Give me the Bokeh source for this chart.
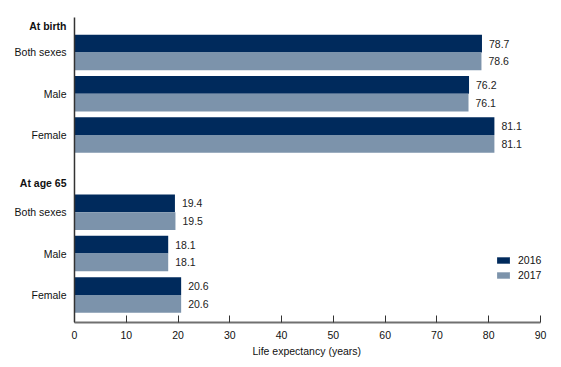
from bokeh.plotting import figure
from bokeh.models import Range1d, FixedTicker, ColumnDataSource, Legend, LegendItem, Title
from bokeh.core.properties import value
from bokeh.embed import file_html
from bokeh.resources import INLINE

sections = ["At birth", "At age 65"]
groups = ["Both sexes", "Male", "Female"]
v2016_birth = [78.7, 76.2, 81.1]
v2017_birth = [78.6, 76.1, 81.1]
v2016_65 = [19.4, 18.1, 20.6]
v2017_65 = [19.5, 18.1, 20.6]
xticks = [0, 10, 20, 30, 40, 50, 60, 70, 80, 90]

C16 = "#002A5C"
C17 = "#7C93AB"
FONT = "Liberation Sans"
FS = "10.5px"
TXT = "#111111"

# layout (y units, reversed axis; one unit = one group step)
sec_offset = [0.0, 3.87]
header_offset = [-0.63, -0.70]
bh = 0.43
y_top, y_bottom = -1.259, 6.538
axis_top = -0.847
x_left, x_right = -14.29, 92.9

ys16, ys17, vals16, vals17, centers, labels = [], [], [], [], [], []
data16 = [v2016_birth, v2016_65]
data17 = [v2017_birth, v2017_65]
for s in range(2):
    for i, g in enumerate(groups):
        c = sec_offset[s] + i
        centers.append(c)
        labels.append(g)
        ys16.append(c - bh / 2)
        ys17.append(c + bh / 2)
        vals16.append(data16[s][i])
        vals17.append(data17[s][i])

p = figure(frame_width=555, frame_height=322, output_backend="svg", toolbar_location=None,
           x_range=Range1d(x_left, x_right), y_range=Range1d(y_bottom, y_top),
           y_axis_location=None, min_border_left=0, min_border_top=0,
           min_border_right=0, min_border_bottom=42)
p.outline_line_color = None
p.xgrid.visible = False
p.ygrid.visible = False

src16 = ColumnDataSource(dict(y=ys16, v=vals16, t=[f"{v:.1f}" for v in vals16]))
src17 = ColumnDataSource(dict(y=ys17, v=vals17, t=[f"{v:.1f}" for v in vals17]))
r16 = p.hbar(y="y", right="v", left=0, height=bh, source=src16, fill_color=C16, line_color=None)
r17 = p.hbar(y="y", right="v", left=0, height=bh, source=src17, fill_color=C17, line_color=None)
for src in (src16, src17):
    p.text(x="v", y="y", text="t", source=src, x_offset=7, text_align="left",
           text_baseline="middle", text_font_size=FS, text_color="#222222",
           text_font=value(FONT))

# left axis line
p.segment(x0=[0], y0=[axis_top], x1=[0], y1=[y_bottom], line_color="#333333", line_width=1.5)

# category labels
cat_src = ColumnDataSource(dict(x=[0] * len(centers), y=centers, t=labels))
p.text(x="x", y="y", text="t", source=cat_src, x_offset=-8, text_align="right",
       text_baseline="middle", text_font_size=FS, text_color=TXT, text_font=value(FONT))
head_src = ColumnDataSource(dict(x=[0, 0], y=[sec_offset[s] + header_offset[s] for s in range(2)],
                                 t=sections))
p.text(x="x", y="y", text="t", source=head_src, x_offset=-8, text_align="right",
       text_baseline="middle", text_font_size=FS, text_color=TXT, text_font=value(FONT),
       text_font_style="bold")

# x axis
xa = p.xaxis[0]
xa.ticker = FixedTicker(ticks=xticks)
xa.bounds = (0, 90)
xa.major_tick_in = 7
xa.major_tick_out = 0
xa.minor_tick_line_color = None
xa.axis_line_color = "#707070"
xa.axis_line_width = 2
xa.major_tick_line_color = "#333333"
xa.major_tick_line_width = 1
xa.major_label_text_font = FONT
xa.major_label_text_font_size = FS
xa.major_label_text_color = TXT
xa.major_label_standoff = 8

t = Title(text="Life expectancy (years)", align="left", offset=252, standoff=3,
          text_font=FONT, text_font_size=FS, text_font_style="normal", text_color=TXT)
p.add_layout(t, "below")

legend = Legend(items=[LegendItem(label="2016", renderers=[r16]),
                       LegendItem(label="2017", renderers=[r17])],
                location=(495, 41), background_fill_alpha=0, border_line_color=None,
                glyph_width=16, glyph_height=8, label_text_font=FONT,
                label_text_font_size=FS, label_text_color=TXT,
                spacing=3, padding=2, margin=0, label_standoff=7)
p.add_layout(legend)

open("out.html", "w").write(file_html(p, INLINE))
